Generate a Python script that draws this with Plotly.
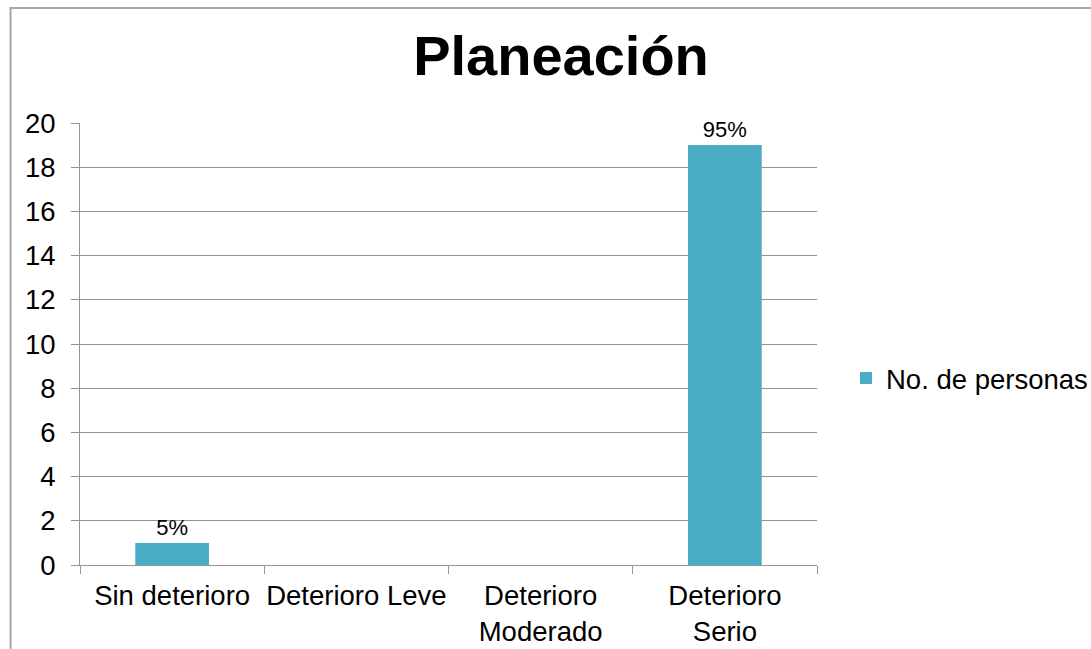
import plotly.graph_objects as go

categories = ["Sin deterioro", "Deterioro Leve", "Deterioro<br>Moderado", "Deterioro<br>Serio"]
values = [1, 0, 0, 19]
labels = ["5%", "", "", "95%"]
series_name = "No. de personas"
y_ticks = [0, 2, 4, 6, 8, 10, 12, 14, 16, 18, 20]

W, H = 1091, 649
L, R, T, B = 79.5, 274, 123, 84
pw = W - L - R
ph = H - T - B

def px_x(x):
    return (x - L) / pw

def px_y(y):
    return (H - B - y) / ph

FONT = "Liberation Sans, Arial, sans-serif"
GRID = "#959595"
FS = 27.5

fig = go.Figure()
fig.add_trace(go.Bar(
    x=categories, y=values, name=series_name,
    marker=dict(color="#4BACC6", line=dict(width=0)),
    text=labels, textposition="outside", cliponaxis=False,
    textfont=dict(family=FONT, size=22, color="#000000"),
    showlegend=True,
))

fig.update_layout(
    width=W, height=H,
    margin=dict(l=L, r=R, t=T, b=B, autoexpand=False),
    paper_bgcolor="white", plot_bgcolor="white",
    font=dict(family=FONT, size=FS, color="#000000"),
    bargap=0.6,
    title=dict(text="<b>Planeación</b>", x=561 / W, xanchor="center",
               y=1 - 55 / H, yanchor="middle",
               font=dict(family=FONT, size=56, color="#000000")),
    xaxis=dict(
        type="category", tickson="boundaries", ticks="outside", ticklen=8,
        tickcolor=GRID, tickwidth=1, showline=True, linecolor=GRID, linewidth=1,
        showgrid=False, tickangle=0, ticklabelstandoff=6,
        tickfont=dict(family=FONT, size=FS, color="#000000"),
        range=[-0.5, 3.5],
    ),
    yaxis=dict(
        range=[0, 20], tickvals=y_ticks, ticks="outside", ticklen=8,
        tickcolor=GRID, tickwidth=1, showline=True, linecolor=GRID, linewidth=1,
        showgrid=True, gridcolor=GRID, gridwidth=1, zeroline=False,
        tickfont=dict(family=FONT, size=FS, color="#000000"),
        ticklabelstandoff=10,
    ),
    legend=dict(
        x=px_x(846), xanchor="left", y=px_y(378), yanchor="middle",
        font=dict(family=FONT, size=FS, color="#000000"),
        bgcolor="rgba(0,0,0,0)", borderwidth=0,
    ),
    shapes=[dict(
        type="rect", xref="paper", yref="paper",
        x0=px_x(10), x1=px_x(1200), y0=px_y(8), y1=px_y(700),
        line=dict(color="#a6a6a6", width=2), fillcolor="rgba(0,0,0,0)",
        layer="below",
    )],
)

fig.write_html(
    "out.html",
    config={"displayModeBar": False},
    post_script="document.body.style.margin='0';document.body.style.overflow='hidden';",
)
